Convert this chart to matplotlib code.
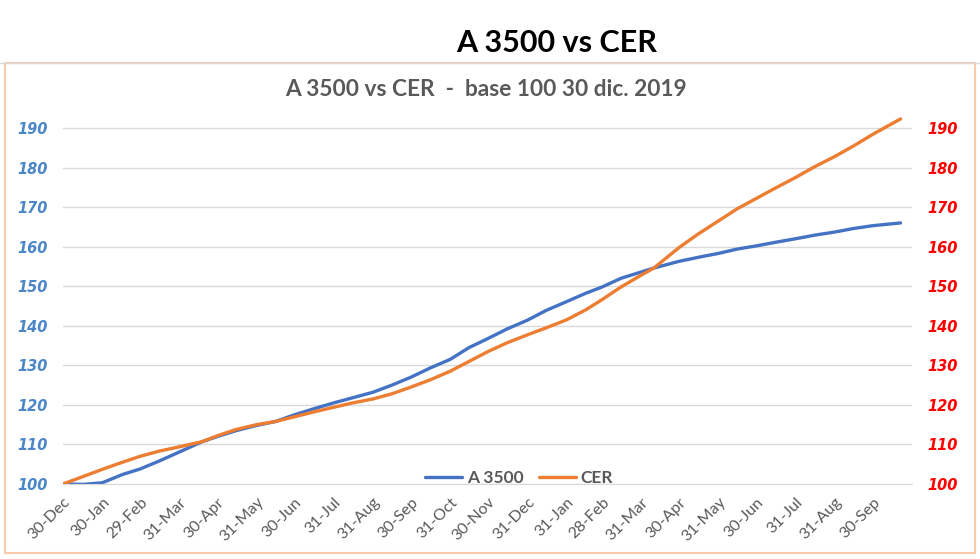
import pandas as pd
import matplotlib
matplotlib.use("Agg")
import matplotlib.pyplot as plt
from matplotlib.patches import Rectangle
from matplotlib.lines import Line2D

# values (base 100 = 30 dic. 2019)
dates = pd.to_datetime([
    "2019-12-30", "2020-01-15", "2020-01-30", "2020-02-15", "2020-02-29",
    "2020-03-15", "2020-03-31", "2020-04-18", "2020-04-30", "2020-05-15",
    "2020-05-31", "2020-06-15", "2020-06-30", "2020-07-15", "2020-07-31",
    "2020-08-15", "2020-08-31", "2020-09-15", "2020-09-30", "2020-10-15",
    "2020-10-31", "2020-11-15", "2020-11-30", "2020-12-15", "2020-12-31",
    "2021-01-15", "2021-01-31", "2021-02-15", "2021-02-28", "2021-03-15",
    "2021-03-31", "2021-04-10", "2021-04-30", "2021-05-15", "2021-05-31",
    "2021-06-15", "2021-06-30", "2021-07-15", "2021-07-31", "2021-08-15",
    "2021-08-31", "2021-09-15", "2021-09-30", "2021-10-22",
])
a3500 = [100.0, 99.9, 100.3, 102.4, 103.8,
         105.8, 108.1, 110.7, 112.0, 113.5,
         114.8, 115.8, 117.5, 119.0, 120.5,
         121.8, 123.2, 125.0, 127.0, 129.3,
         131.5, 134.5, 136.8, 139.2, 141.4,
         143.9, 146.1, 148.2, 149.8, 152.0,
         153.6, 154.6, 156.3, 157.3, 158.3,
         159.4, 160.2, 161.1, 162.0, 162.9,
         163.7, 164.6, 165.3, 166.0]
cer = [100.0, 101.9, 103.7, 105.5, 107.0,
       108.3, 109.4, 110.7, 112.2, 113.8,
       115.0, 115.8, 117.0, 118.2, 119.4,
       120.5, 121.5, 122.8, 124.5, 126.3,
       128.5, 131.0, 133.5, 135.7, 137.7,
       139.5, 141.5, 144.0, 146.6, 149.8,
       152.8, 154.6, 159.8, 163.2, 166.5,
       169.6, 172.2, 174.8, 177.5, 180.2,
       182.8, 185.5, 188.4, 192.3]

tick_dates = pd.to_datetime([
    "2019-12-30", "2020-01-30", "2020-02-29", "2020-03-31", "2020-04-30",
    "2020-05-31", "2020-06-30", "2020-07-31", "2020-08-31", "2020-09-30",
    "2020-10-31", "2020-11-30", "2020-12-31", "2021-01-31", "2021-02-28",
    "2021-03-31", "2021-04-30", "2021-05-31", "2021-06-30", "2021-07-31",
    "2021-08-31", "2021-09-30",
])
tick_labels = [d.strftime("%d-%b") for d in tick_dates]
y_ticks = [100, 110, 120, 130, 140, 150, 160, 170, 180, 190]
y_labels = [str(v) for v in y_ticks]

blue = "#4472c4"
orange = "#ed7d31"
gray = "#595959"
ylab_style = dict(family="DejaVu Sans", fontweight="bold", fontstyle="italic",
                  fontsize=10.5)

fig = plt.figure(figsize=(9.8, 5.59), dpi=100)
ax = fig.add_axes([0.0643, 0.1342, 0.8663, 0.6722])

ax.plot(dates, a3500, color=blue, lw=2.4, label="A 3500", solid_capstyle="round")
ax.plot(dates, cer, color=orange, lw=2.4, label="CER", solid_capstyle="round")

ax.set_xlim(pd.Timestamp("2019-12-30"), pd.Timestamp("2021-10-31"))
ax.set_ylim(100, 195)
ax.set_yticks(y_ticks, labels=y_labels, color="#4a86c8", **ylab_style)
ax.grid(axis="y", color="#d9d9d9", lw=1)
ax.set_axisbelow(True)
for s in ["top", "left", "right"]:
    ax.spines[s].set_visible(False)
ax.spines["bottom"].set_color("#d9d9d9")

ax.set_xticks(tick_dates, labels=tick_labels, rotation=45, ha="right",
              va="top", rotation_mode="anchor", family="Lato",
              fontsize=11.5, color=gray)
ax.tick_params(axis="x", length=0, pad=8)
ax.tick_params(axis="y", length=0, pad=11)

ax2 = ax.twinx()
ax2.set_ylim(ax.get_ylim())
ax2.set_yticks(y_ticks, labels=y_labels, color="#ff0000", **ylab_style)
for s in ["top", "left", "right", "bottom"]:
    ax2.spines[s].set_visible(False)
ax2.tick_params(axis="y", length=0, pad=11)

leg = ax.legend(loc="center", bbox_to_anchor=(519 / 980, 1 - 478 / 559),
                bbox_transform=fig.transFigure, ncol=2, frameon=False,
                handlelength=2.15, handletextpad=0.25, columnspacing=0.9,
                prop={"family": "Lato", "weight": "bold", "size": 12.5})
for t in leg.get_texts():
    t.set_color(gray)

# titles
fig.text(557 / 980, 1 - 43 / 559, "A 3500 vs CER", ha="center", va="center",
         fontsize=22, fontweight="bold", family="Lato", color="black")
fig.text(486 / 980, 1 - 89 / 559, "A 3500 vs CER  -  base 100 30 dic. 2019",
         ha="center", va="center", fontsize=16.3, fontweight="bold",
         family="Lato", color=gray)

# chart frame
fig.add_artist(Line2D([0, 1], [1 - 63 / 559] * 2, transform=fig.transFigure,
                      color="#d9d9d9", lw=1))
fig.add_artist(Rectangle((5 / 980, 1 - 553 / 559), 970 / 980, 490 / 559,
                         transform=fig.transFigure, fill=False,
                         edgecolor="#f8cbad", lw=1.5))

fig.savefig("out.png", dpi=100)
